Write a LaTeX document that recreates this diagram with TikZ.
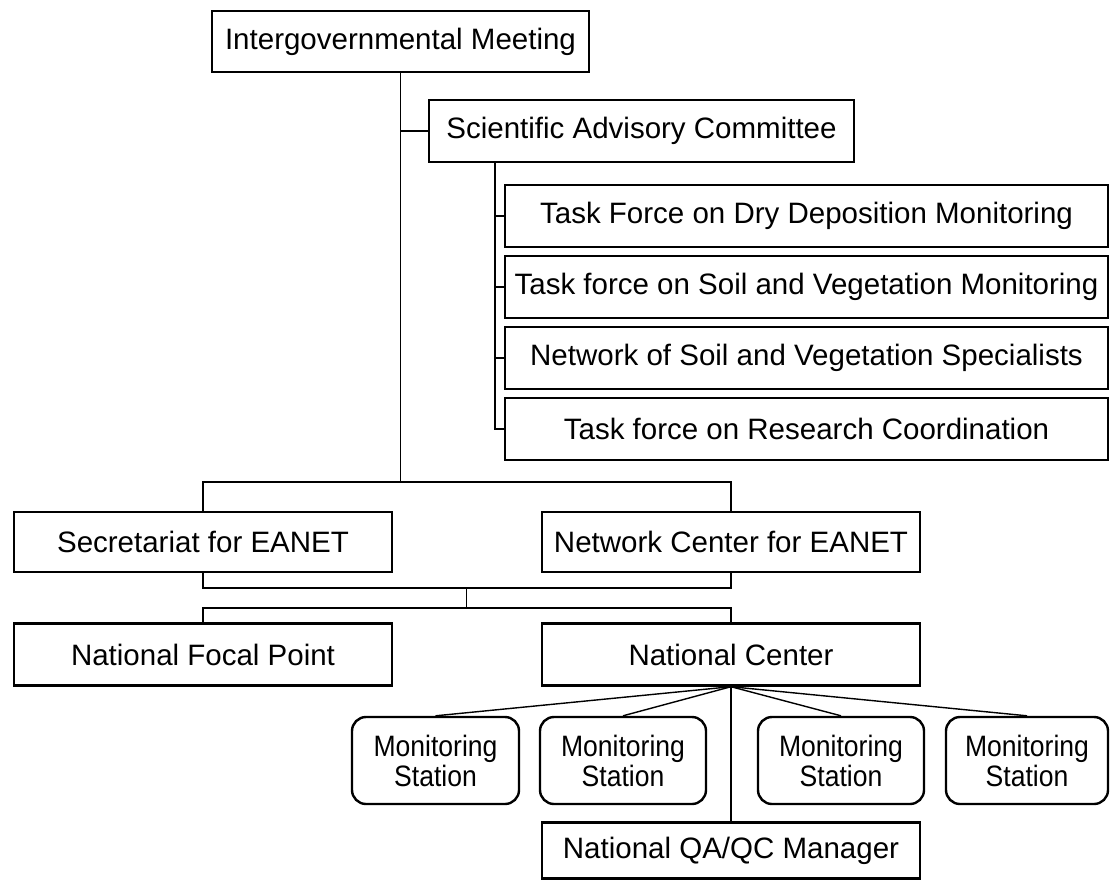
\documentclass[tikz,border=0pt]{standalone}
\usepackage{fontspec}
\setmainfont{Liberation Sans}
\newfontfamily\narrowsans[FakeStretch=0.9]{Liberation Sans}
\usepackage{tikz}
\newcommand*{\station}{Monitoring\\Station}

\begin{document}
\begin{tikzpicture}[x=1pt, y=-1pt,
    box/.style={draw, line width=2.4pt, inner sep=0pt, minimum height=61pt,
      font=\fontsize{29.5}{31}\selectfont},
    stationbox/.style={box, rounded corners=14pt, align=center, minimum height=87pt,
      font=\fontsize{29.5}{30}\selectfont\narrowsans},
    link/.style={line width=1.4pt}]
  \useasboundingbox (0,0) rectangle (1110,880);

  \node[box, minimum width=377pt] (igm) at (400.5, 41.5) {Intergovernmental Meeting};
  \node[box, minimum width=425pt, minimum height=62pt] (sac) at (641.5, 131) {Scientific Advisory Committee};

  {\tikzstyle{every node}=[box, minimum width=603pt, minimum height=62pt]
    \foreach \i/\txt in {1/Task Force on Dry Deposition Monitoring,
                         2/Task force on Soil and Vegetation Monitoring,
                         3/Network of Soil and Vegetation Specialists,
                         4/Task force on Research Coordination}
    {
      \node (tf\i) at (806.5, 216+\i*71-71) {\txt};
    }
  }

  {\tikzstyle{every node}=[box, minimum width=378pt]
    \node[minimum height=60pt] (sec) at (203, 542) {Secretariat for EANET};
    \node[minimum height=60pt] (ncen) at (731, 542) {Network Center for EANET};
    \node[minimum height=62pt] (nfp) at (203, 654.5) {National Focal Point};
    \node[minimum height=62pt] (nc) at (731, 654.5) {National Center};
    \node[minimum height=56pt] (qa) at (731, 850.5) {National QA/QC Manager};
  }

  \foreach \i/\x/\w in {1/435.5/167, 2/623/166, 3/841/166, 4/1027/162}
  {
    \node[stationbox, minimum width=\w pt] (ms\i) at (\x, 760.5) {\station};
  }

  \coordinate (split) at (400.5, 482);
  \coordinate (sub) at (495, 162);
  \coordinate (mid) at (466.5, 588);
  \coordinate (low) at (466.5, 608);

  \draw[link]
    (igm.south) -- (split)
    (sac.west) -- (sac.west -| igm.south)
    (sec.north) |- (split) -| (ncen.north)
    (sub) |- (tf4.west)
    (sec.south) |- (mid) -| (ncen.south)
    (mid) -- (low)
    (nfp.north) |- (low) -| (nc.north)
    (nc.south) -- (qa.north);

  \foreach \i in {1, 2, 3}
  {
    \draw[link] (tf\i.west) -- (tf\i.west -| sub);
  }

  \foreach \i in {1, ..., 4}
  {
    \draw[link] (nc.south) -- (ms\i.north);
  }
\end{tikzpicture}
\end{document}
